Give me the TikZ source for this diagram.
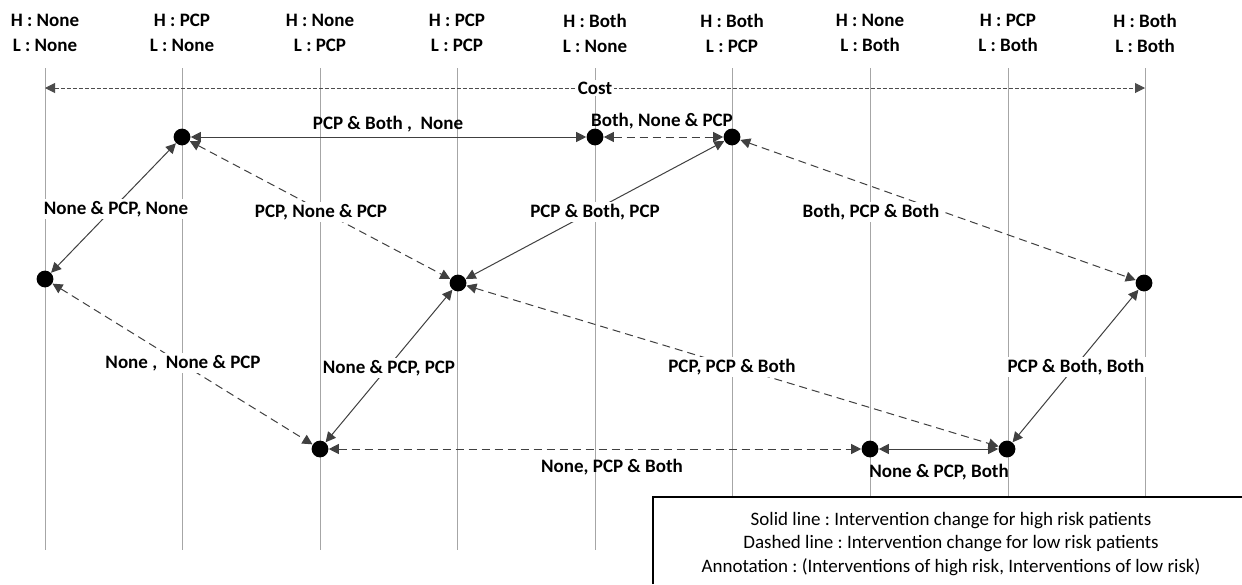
\documentclass[tikz,border=0pt]{standalone}
\usepackage{fontspec}
\setmainfont{Carlito}
\usetikzlibrary{arrows.meta}
\begin{document}
\frenchspacing
\begin{tikzpicture}[x=0.5pt,y=-0.5pt,
  state/.style={circle,fill=black,inner sep=0pt,minimum size=8.4pt},
  axis/.style={draw=gray!70,line width=0.5pt},
  hdr/.style={font=\bfseries\fontsize{9.5}{12.5}\selectfont,align=center,inner sep=0pt},
  lbl/.style={font=\bfseries\fontsize{9.5}{11}\selectfont,inner sep=1pt},
  onlbl/.style={lbl,fill=white},
  tip/.tip={Triangle[length=5pt,width=5pt]},
  link/.style={draw=black!75,line width=0.5pt,tip-tip},
  high/.style={link},
  low/.style={link,dash pattern=on 4pt off 2.5pt},
  costline/.style={draw=black!70,line width=0.5pt,dash pattern=on 2pt off 1pt,tip-tip},
]
\useasboundingbox (0,0) rectangle (1242,584);
\fill[white] (0,0) rectangle (1242,584);

% column headers and their vertical guide lines
\foreach \i/\x/\h/\l in {1/45/None/None, 2/182/PCP/None, 3/320/None/PCP,
    4/457/PCP/PCP, 5/595/Both/None, 6/732/Both/PCP, 7/870/None/Both,
    8/1008/PCP/Both, 9/1145/Both/Both}{
  \node[hdr] (h\i) at (\x,33) {H : \h\\L : \l};
  \coordinate (t\i) at (\x,68);
  \coordinate (b\i) at (\x,550);
  \draw[axis] (t\i) -- (b\i);
}

% legend box
\fill[white] (653,497) rectangle (1242,584);
\draw[line width=0.75pt] (653,584) -- (653,497) -- (1242,497);
\node[font=\fontsize{9.5}{11.75}\selectfont,align=center,inner sep=0pt] (legend) at (951,544)
  {Solid line : Intervention change for high risk patients\\
   Dashed line : Intervention change for low risk patients\\
   Annotation : (Interventions of high risk, Interventions of low risk)};

% cost axis
\coordinate (cl) at (45,88);
\coordinate (cr) at (1145,88);
\draw[costline] (cl) -- node[lbl,fill=white] (cost) {Cost} (cr);

% states
\node[state] (A) at (182,137) {};
\node[state] (B) at (595,137) {};
\node[state] (C) at (732,137) {};
\node[state] (D) at (45,279) {};
\node[state] (E) at (458,283) {};
\node[state] (F) at (1144,283) {};
\node[state] (G) at (320,449) {};
\node[state] (H) at (870,449) {};
\node[state] (I) at (1007,449) {};

% transitions
\draw[high] (A) -- (B);
\draw[low]  (B) -- (C);
\draw[high] (D) -- (A);
\draw[low]  (A) -- (E);
\draw[high] (E) -- (C);
\draw[low]  (C) -- (F);
\draw[low]  (D) -- (G);
\draw[high] (G) -- (E);
\draw[low]  (E) -- (I);
\draw[low]  (G) -- (H);
\draw[high] (H) -- (I);
\draw[high] (I) -- (F);

% transition labels
\node[lbl] (lAB) at (388,124) {PCP \& Both ,\ \ None};
\node[lbl] (lBC) at (662,121) {Both, None \& PCP};
\node[onlbl] (lDA) at (116,209) {None \& PCP, None};
\node[onlbl] (lAE) at (321,212) {PCP, None \& PCP};
\node[onlbl] (lEC) at (595,212) {PCP \& Both, PCP};
\node[onlbl] (lCF) at (871,212) {Both, PCP \& Both};
\node[onlbl] (lDG) at (183,363) {None ,\ \ None \& PCP};
\node[onlbl] (lGE) at (389,368) {None \& PCP, PCP};
\node[onlbl] (lEI) at (732,367) {PCP, PCP \& Both};
\node[onlbl] (lIF) at (1076,367) {PCP \& Both, Both};
\node[lbl] (lGH) at (612,467) {None, PCP \& Both};
\node[lbl] (lHI) at (939,472) {None \& PCP, Both};
\end{tikzpicture}
\end{document}
